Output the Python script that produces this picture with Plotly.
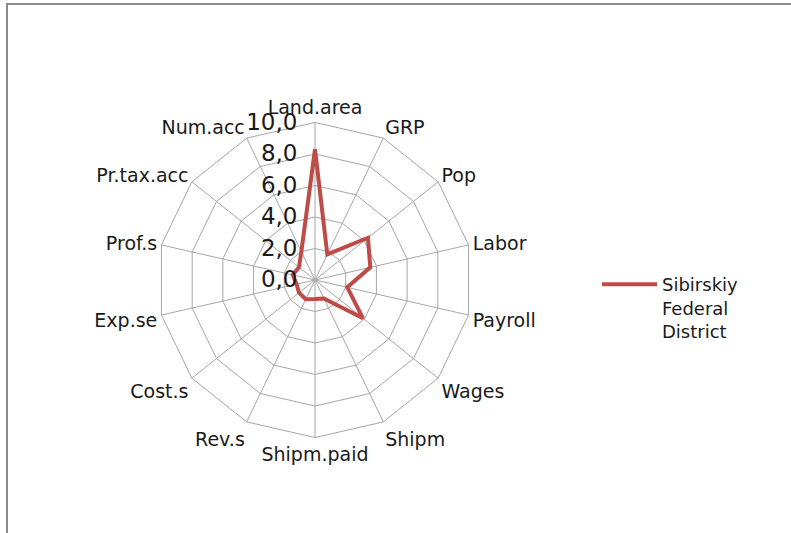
import plotly.graph_objects as go

categories = ["Land.area", "GRP", "Pop", "Labor", "Payroll", "Wages", "Shipm",
              "Shipm.paid", "Rev.s", "Cost.s", "Exp.se", "Prof.s", "Pr.tax.acc", "Num.acc"]
values = [8.3, 1.8, 4.3, 3.6, 2.1, 3.9, 1.3, 1.2, 1.35, 1.3, 1.2, 1.45, 1.3, 2.0]
series_name = "Sibirskiy<br>Federal<br>District"
radial_ticks = [0, 2, 4, 6, 8, 10]
radial_labels = ["0,0", "2,0", "4,0", "6,0", "8,0", "10,0"]

W, H = 791, 533
cx, cy, R = 315, 280, 157.5
FONT = "DejaVu Sans, Liberation Sans, Arial, sans-serif"

fig = go.Figure()
fig.add_trace(go.Scatterpolar(
    r=values + values[:1],
    theta=categories + categories[:1],
    mode="lines",
    line=dict(color="#be4b48", width=4),
    name=series_name,
    showlegend=True,
))

grid = "#a6a6a6"
fig.update_layout(
    width=W, height=H,
    margin=dict(l=0, r=0, t=0, b=0),
    paper_bgcolor="white",
    plot_bgcolor="white",
    font=dict(family=FONT, color="#1a1a1a"),
    polar=dict(
        domain=dict(x=[(cx - R) / W, (cx + R) / W],
                    y=[(H - cy - R) / H, (H - cy + R) / H]),
        bgcolor="white",
        gridshape="linear",
        angularaxis=dict(
            direction="clockwise", rotation=90,
            categoryorder="array", categoryarray=categories,
            showline=True, linecolor=grid, linewidth=1,
            gridcolor=grid, gridwidth=1,
            ticks="", tickfont=dict(size=19, color="#1a1a1a", family=FONT),
        ),
        radialaxis=dict(
            range=[0, 10], angle=90, side="counterclockwise",
            tickvals=radial_ticks, ticktext=radial_labels,
            tickfont=dict(size=23, color="#1a1a1a", family=FONT),
            showline=False, ticks="outside", ticklen=9,
            tickcolor="rgba(0,0,0,0)",
            gridcolor=grid, gridwidth=1,
            tickangle=90,
        ),
    ),
    legend=dict(
        x=597 / W, y=1 - 266 / H, xanchor="left", yanchor="top",
        font=dict(size=18, color="#1a1a1a", family=FONT),
        itemwidth=55, valign="top",
        bgcolor="rgba(0,0,0,0)",
    ),
    shapes=[dict(type="rect", xref="paper", yref="paper",
                 x0=7 / W, x1=1.02, y0=-0.02, y1=1 - 4 / H,
                 line=dict(color="#8c8c8c", width=2))],
)

fig.write_html("out.html", config={"displayModeBar": False},
               post_script="document.body.style.margin='0';document.body.style.padding='0';")
